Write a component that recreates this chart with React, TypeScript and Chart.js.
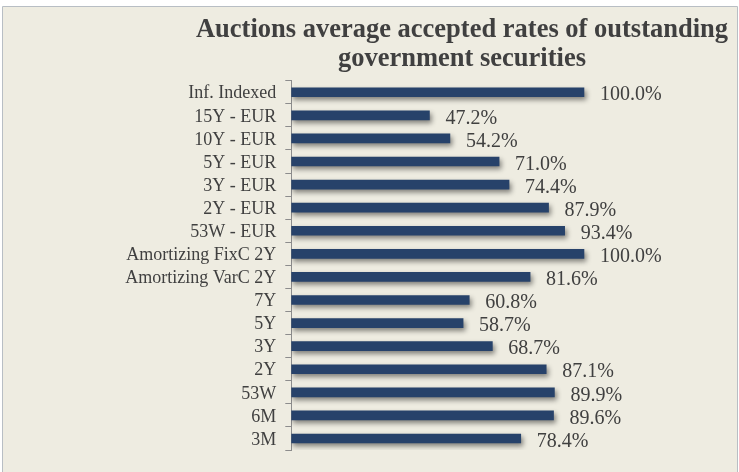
import React, { useEffect, useRef } from "react";
import { Chart, registerables } from "chart.js";

Chart.register(...registerables);

const titleLines = ["Auctions average accepted rates of outstanding", "government securities"];
const categories = [
  "Inf. Indexed",
  "15Y - EUR",
  "10Y - EUR",
  "5Y - EUR",
  "3Y - EUR",
  "2Y - EUR",
  "53W - EUR",
  "Amortizing FixC 2Y",
  "Amortizing VarC 2Y",
  "7Y",
  "5Y",
  "3Y",
  "2Y",
  "53W",
  "6M",
  "3M",
];
const rates = [100.0, 47.2, 54.2, 71.0, 74.4, 87.9, 93.4, 100.0, 81.6, 60.8, 58.7, 68.7, 87.1, 89.9, 89.6, 78.4];

const SERIF = "'Liberation Serif', 'Times New Roman', serif";
const TEXT = "#404040";

export default function App() {
  const ref = useRef<HTMLCanvasElement | null>(null);

  useEffect(() => {
    document.body.style.margin = "0";
    const canvas = ref.current;
    if (!canvas) return;

    const bgPlugin = {
      id: "bg",
      beforeDraw(chart: any) {
        const ctx = chart.ctx;
        const w = chart.width;
        const h = chart.height;
        ctx.save();
        ctx.fillStyle = "#ffffff";
        ctx.fillRect(0, 0, w, h);
        ctx.fillStyle = "#EEECE1";
        ctx.fillRect(3, 7, w - 5, h - 7);
        ctx.strokeStyle = "#B8BEC4";
        ctx.lineWidth = 1;
        ctx.beginPath();
        ctx.moveTo(2.5, h);
        ctx.lineTo(2.5, 6.5);
        ctx.lineTo(w - 1.5, 6.5);
        ctx.lineTo(w - 1.5, h);
        ctx.stroke();
        ctx.restore();
      },
      afterDraw(chart: any) {
        const ctx = chart.ctx;
        ctx.save();
        ctx.fillStyle = TEXT;
        ctx.font = "bold 26.5px " + SERIF;
        ctx.textAlign = "center";
        ctx.textBaseline = "alphabetic";
        titleLines.forEach((t, i) => ctx.fillText(t, 462, 37 + i * 29));
        ctx.restore();
      },
    };

    const shadowPlugin = {
      id: "barShadow",
      beforeDatasetsDraw(chart: any) {
        const ctx = chart.ctx;
        ctx.save();
        ctx.shadowColor = "rgba(0,0,0,0.45)";
        ctx.shadowBlur = 5;
        ctx.shadowOffsetX = 2;
        ctx.shadowOffsetY = 3;
      },
      afterDatasetsDraw(chart: any) {
        chart.ctx.restore();
      },
    };

    const labelPlugin = {
      id: "valueLabels",
      afterDatasetsDraw(chart: any) {
        const ctx = chart.ctx;
        const meta = chart.getDatasetMeta(0);
        ctx.save();
        ctx.fillStyle = TEXT;
        ctx.font = "20px " + SERIF;
        ctx.textAlign = "left";
        ctx.textBaseline = "middle";
        meta.data.forEach((bar: any, i: number) => {
          ctx.fillText(rates[i].toFixed(1) + "%", bar.x + 16, bar.y + 3);
        });
        ctx.restore();
      },
    };

    const chart = new Chart(canvas, {
      type: "bar",
      data: {
        labels: categories,
        datasets: [
          {
            data: rates.map((v) => v / 100),
            backgroundColor: "#27426A",
            borderWidth: 0,
            barThickness: 9,
          },
        ],
      },
      options: {
        indexAxis: "y",
        animation: false,
        responsive: false,
        maintainAspectRatio: false,
        layout: { padding: { top: 80.7, bottom: 22, left: 0, right: 96.5 } },
        plugins: {
          legend: { display: false },
          title: { display: false },
          tooltip: { enabled: false },
        },
        scales: {
          x: {
            display: false,
            min: 0,
            max: 1.2,
          },
          y: {
            afterFit(scale: any) {
              scale.width = 291.3;
            },
            border: { display: true, color: "#8C8C8C", width: 1 },
            grid: {
              offset: true,
              drawOnChartArea: false,
              drawTicks: true,
              tickLength: 6,
              color: "#8C8C8C",
            },
            ticks: {
              color: TEXT,
              font: { family: SERIF, size: 18 },
              padding: 9,
              labelOffset: 1.5,
              autoSkip: false,
            },
          },
        },
      },
      plugins: [bgPlugin, shadowPlugin, labelPlugin],
    });

    return () => chart.destroy();
  }, []);

  return <canvas ref={ref} width={739} height={472} style={{ display: "block" }} />;
}
